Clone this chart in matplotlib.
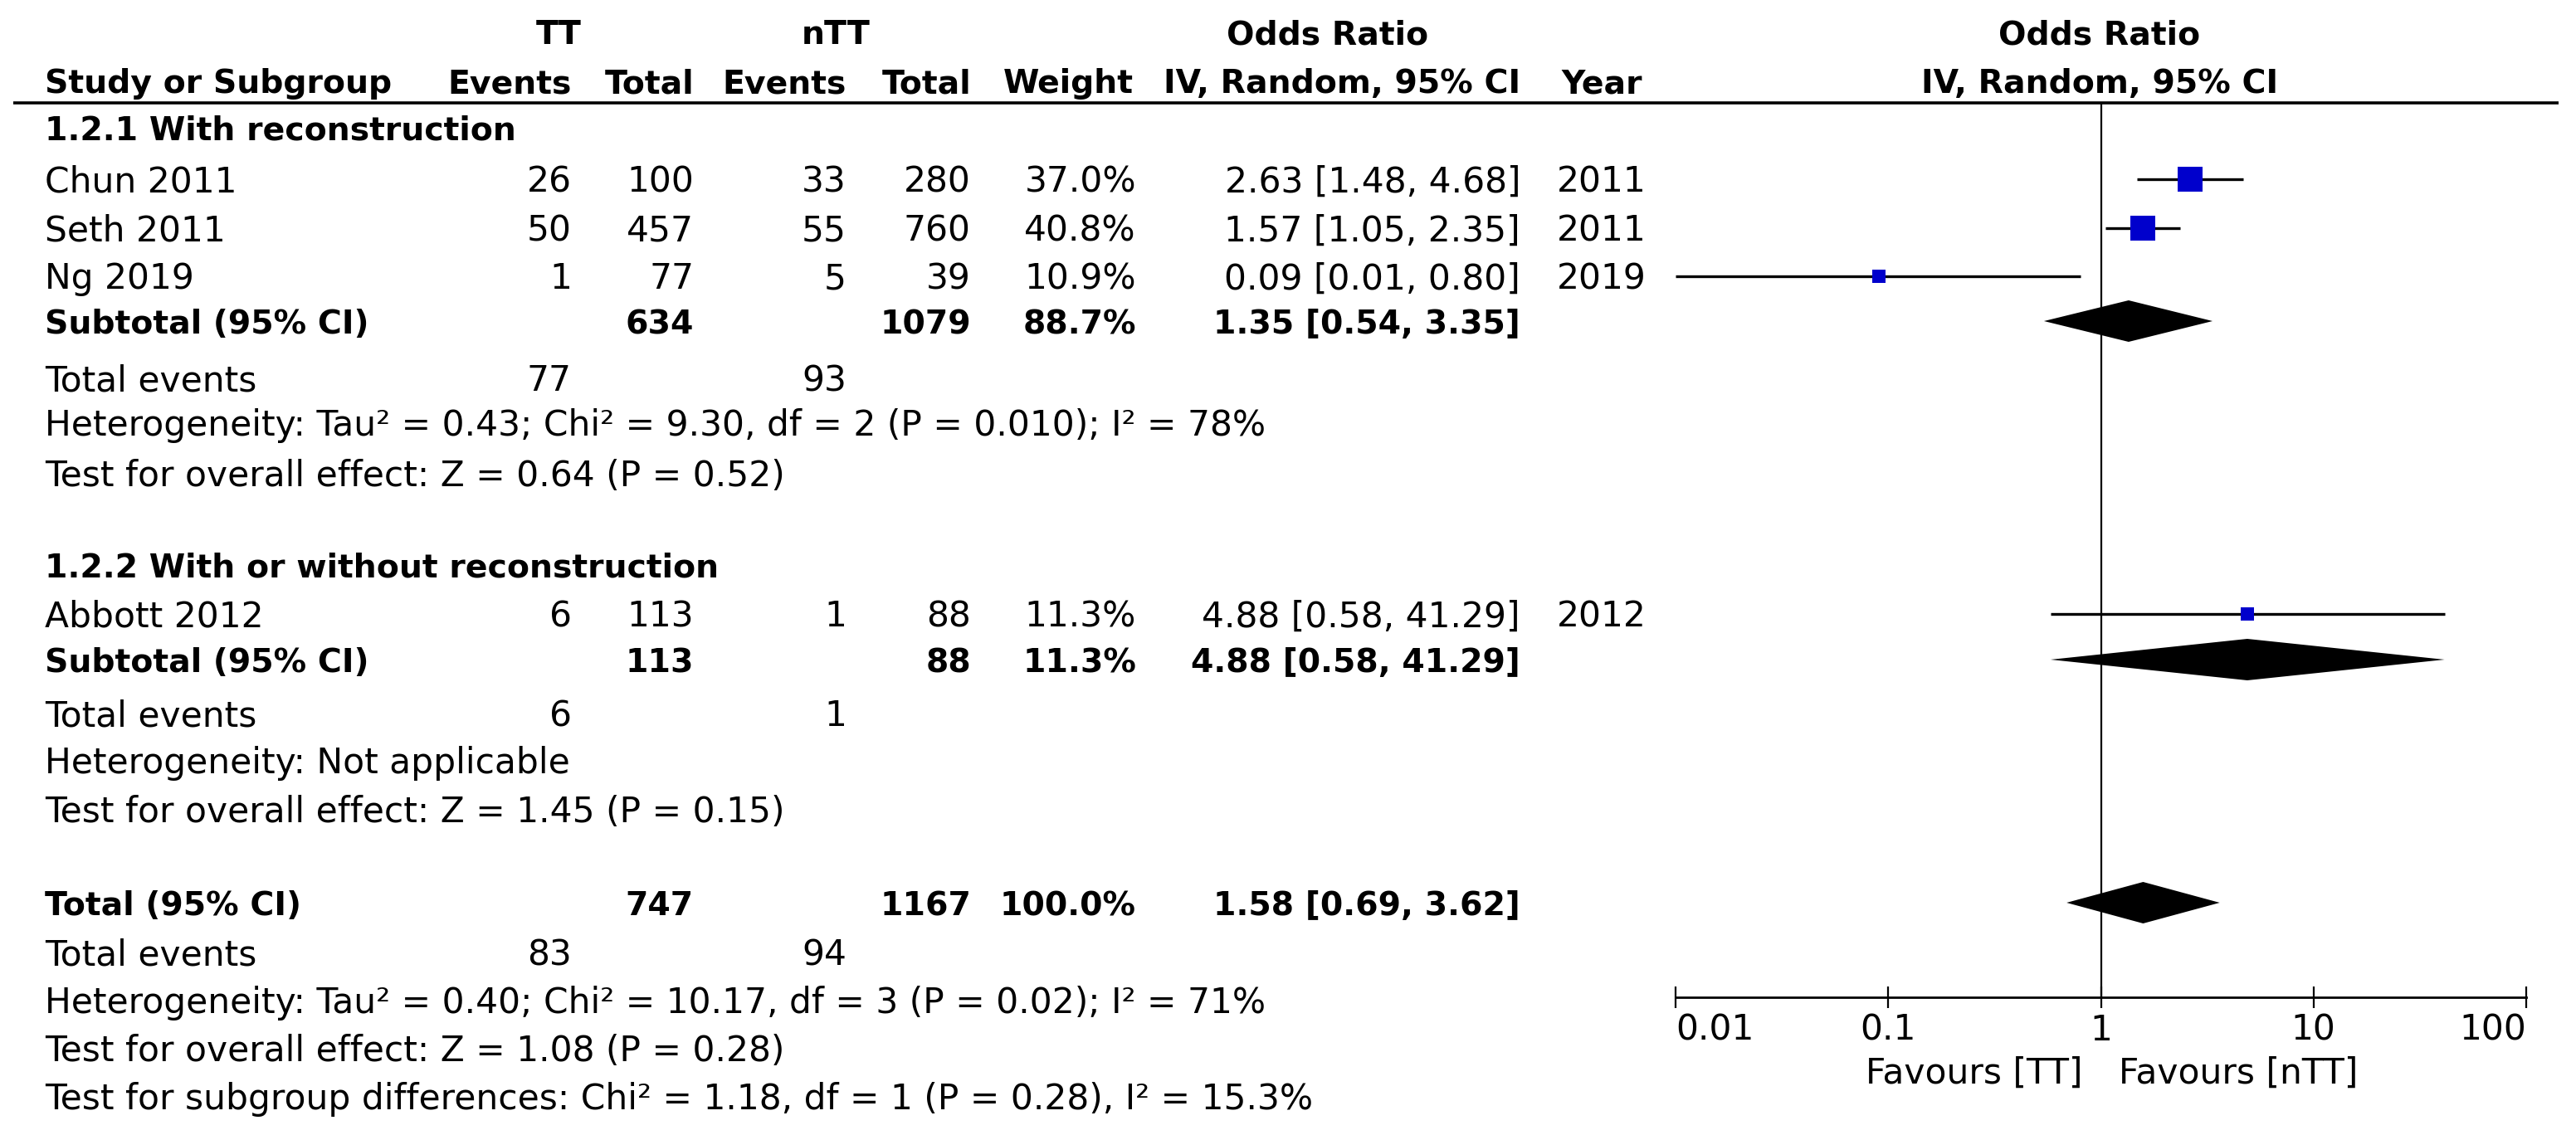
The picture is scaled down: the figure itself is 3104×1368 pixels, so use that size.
import matplotlib
matplotlib.use("Agg")
import matplotlib.pyplot as plt
from matplotlib.ticker import NullLocator, FixedLocator, FixedFormatter

# ---------------- data ----------------
studies = ["Chun 2011", "Seth 2011", "Ng 2019", "Abbott 2012"]
study_group = [0, 0, 0, 1]
tt_events = [26, 50, 1, 6]
tt_total = [100, 457, 77, 113]
ntt_events = [33, 55, 5, 1]
ntt_total = [280, 760, 39, 88]
weights = [37.0, 40.8, 10.9, 11.3]
or_est = [2.63, 1.57, 0.09, 4.88]
or_lo = [1.48, 1.05, 0.01, 0.58]
or_hi = [4.68, 2.35, 0.80, 41.29]
years = [2011, 2011, 2019, 2012]

subgroups = ["1.2.1 With reconstruction", "1.2.2 With or without reconstruction"]
sub_tt_total = [634, 113]
sub_ntt_total = [1079, 88]
sub_weight = [88.7, 11.3]
sub_est = [1.35, 4.88]
sub_lo = [0.54, 0.58]
sub_hi = [3.35, 41.29]
sub_tt_events = [77, 6]
sub_ntt_events = [93, 1]
sub_het = ["Heterogeneity: Tau\u00b2 = 0.43; Chi\u00b2 = 9.30, df = 2 (P = 0.010); I\u00b2 = 78%",
           "Heterogeneity: Not applicable"]
sub_effect = ["Test for overall effect: Z = 0.64 (P = 0.52)",
              "Test for overall effect: Z = 1.45 (P = 0.15)"]

total_tt_total = 747
total_ntt_total = 1167
total_weight = 100.0
total_est, total_lo, total_hi = 1.58, 0.69, 3.62
total_tt_events = 83
total_ntt_events = 94
total_het = "Heterogeneity: Tau\u00b2 = 0.40; Chi\u00b2 = 10.17, df = 3 (P = 0.02); I\u00b2 = 71%"
total_effect = "Test for overall effect: Z = 1.08 (P = 0.28)"
subgroup_diff = "Test for subgroup differences: Chi\u00b2 = 1.18, df = 1 (P = 0.28), I\u00b2 = 15.3%"

tick_values = [0.01, 0.1, 1, 10, 100]
tick_labels = ["0.01", "0.1", "1", "10", "100"]
favours_left = "Favours [TT]"
favours_right = "Favours [nTT]"

# ---------------- layout (pixels) ----------------
W, H = 3104, 1368
DPI = 100
plt.rcParams['font.family'] = ['DejaVu Sans']

fig = plt.figure(figsize=(W / DPI, H / DPI), dpi=DPI)
fig.patch.set_facecolor("white")

renderer = fig.canvas.get_renderer()


def fit_size(s, target, weight):
    p = fig.text(0, 0, s, fontsize=20, fontweight=weight)
    w = p.get_window_extent(renderer).width
    p.remove()
    return 20 * target / w


FS = fit_size("Test for overall effect: Z = 0.64 (P = 0.52)", 891.0, "normal")
FSB = fit_size("Study or Subgroup", 418.0, "bold")
fs_px = FS * DPI / 72.0
BASE = 0.36 * fs_px

tax = fig.add_axes([0, 0, 1, 1])
tax.set_xlim(0, W)
tax.set_ylim(H, 0)
tax.axis("off")

X_LABEL = 54
X_TTE = 689
X_TTT = 836
X_NTE = 1020
X_NTT = 1170
X_WT = 1369
X_OR = 1832
X_YEAR = 1930


def txt(x, y, s, ha="left", bold=False):
    tax.text(x, y + BASE, s, ha=ha, va="baseline", fontsize=FSB if bold else FS,
             fontweight="bold" if bold else "normal", color="black")


# headers
txt(673, 38, "TT", ha="center", bold=True)
txt(1007, 38, "nTT", ha="center", bold=True)
txt(1600, 38, "Odds Ratio", ha="center", bold=True)
txt(2530, 38, "Odds Ratio", ha="center", bold=True)
txt(X_LABEL, 97, "Study or Subgroup", bold=True)
txt(X_TTE, 97, "Events", ha="right", bold=True)
txt(X_TTT, 97, "Total", ha="right", bold=True)
txt(X_NTE, 97, "Events", ha="right", bold=True)
txt(X_NTT, 97, "Total", ha="right", bold=True)
txt(1366, 97, "Weight", ha="right", bold=True)
txt(X_OR, 97, "IV, Random, 95% CI", ha="right", bold=True)
txt(X_YEAR, 97, "Year", ha="center", bold=True)
txt(2530, 97, "IV, Random, 95% CI", ha="center", bold=True)
tax.plot([16, 3083], [124, 124], color="black", lw=2.6, solid_capstyle="butt")

# row positions
group_title_y = [153, 680]
study_y = [216, 275, 333, 740]
subtotal_y = [387, 795]
events_y = [456, 860]
het_y = [510, 917]
effect_y = [571, 976]
total_y = 1088
total_events_y = 1148
total_het_y = 1206
total_effect_y = 1264
subdiff_y = 1322

for g in range(len(subgroups)):
    txt(X_LABEL, group_title_y[g], subgroups[g], bold=True)
    txt(X_LABEL, subtotal_y[g], "Subtotal (95% CI)", bold=True)
    txt(X_TTT, subtotal_y[g], str(sub_tt_total[g]), ha="right", bold=True)
    txt(X_NTT, subtotal_y[g], str(sub_ntt_total[g]), ha="right", bold=True)
    txt(X_WT, subtotal_y[g], f"{sub_weight[g]:.1f}%", ha="right", bold=True)
    txt(X_OR, subtotal_y[g], f"{sub_est[g]:.2f} [{sub_lo[g]:.2f}, {sub_hi[g]:.2f}]", ha="right", bold=True)
    txt(X_LABEL, events_y[g], "Total events")
    txt(X_TTE, events_y[g], str(sub_tt_events[g]), ha="right")
    txt(X_NTE, events_y[g], str(sub_ntt_events[g]), ha="right")
    txt(X_LABEL, het_y[g], sub_het[g])
    txt(X_LABEL, effect_y[g], sub_effect[g])

for i in range(len(studies)):
    y = study_y[i]
    txt(X_LABEL, y, studies[i])
    txt(X_TTE, y, str(tt_events[i]), ha="right")
    txt(X_TTT, y, str(tt_total[i]), ha="right")
    txt(X_NTE, y, str(ntt_events[i]), ha="right")
    txt(X_NTT, y, str(ntt_total[i]), ha="right")
    txt(X_WT, y, f"{weights[i]:.1f}%", ha="right")
    txt(X_OR, y, f"{or_est[i]:.2f} [{or_lo[i]:.2f}, {or_hi[i]:.2f}]", ha="right")
    txt(X_YEAR, y, str(years[i]), ha="center")

txt(X_LABEL, total_y, "Total (95% CI)", bold=True)
txt(X_TTT, total_y, str(total_tt_total), ha="right", bold=True)
txt(X_NTT, total_y, str(total_ntt_total), ha="right", bold=True)
txt(X_WT, total_y, f"{total_weight:.1f}%", ha="right", bold=True)
txt(X_OR, total_y, f"{total_est:.2f} [{total_lo:.2f}, {total_hi:.2f}]", ha="right", bold=True)
txt(X_LABEL, total_events_y, "Total events")
txt(X_TTE, total_events_y, str(total_tt_events), ha="right")
txt(X_NTE, total_events_y, str(total_ntt_events), ha="right")
txt(X_LABEL, total_het_y, total_het)
txt(X_LABEL, total_effect_y, total_effect)
txt(X_LABEL, subdiff_y, subgroup_diff)

txt(2510, 1290, favours_left, ha="right")
txt(2553, 1290, favours_right, ha="left")

# ---------------- forest plot ----------------
AX_L, AX_R = 2019, 3044
AX_TOP, AX_BOT = 124, 1202
fax = fig.add_axes([AX_L / W, (H - AX_BOT) / H, (AX_R - AX_L) / W, (AX_BOT - AX_TOP) / H])
fax.set_xscale("log")
fax.set_xlim(tick_values[0], tick_values[-1])
fax.set_ylim(AX_BOT, AX_TOP)
fax.patch.set_alpha(0)
for s in ["top", "left", "right"]:
    fax.spines[s].set_visible(False)
fax.spines["bottom"].set_linewidth(2.0)
fax.yaxis.set_visible(False)
fax.xaxis.set_major_locator(FixedLocator(tick_values))
fax.xaxis.set_major_formatter(FixedFormatter(tick_labels))
fax.xaxis.set_minor_locator(NullLocator())
fax.tick_params(axis="x", which="major", direction="inout", length=19, width=1.6,
                labelsize=FS, pad=4)
fig.canvas.draw()
tls = fax.get_xticklabels()
tls[0].set_horizontalalignment("left")
tls[-1].set_horizontalalignment("right")

fax.axvline(1, color="black", lw=1.6, zorder=1)

SQ_BLUE = "#0000CC"
for i in range(len(studies)):
    y = study_y[i]
    fax.plot([or_lo[i], or_hi[i]], [y, y], color="black", lw=2.4, zorder=2,
             solid_capstyle="butt", clip_on=False)
    ms = 3.49 * weights[i] ** 0.5
    fax.plot([or_est[i]], [y], marker="s", markersize=ms, color=SQ_BLUE,
             markeredgewidth=0, zorder=3, clip_on=False)

DH = 25


def diamond(lo, est, hi, y):
    fax.fill([lo, est, hi, est], [y, y - DH, y, y + DH], color="black",
             lw=0, zorder=3, clip_on=False)


for g in range(len(subgroups)):
    diamond(sub_lo[g], sub_est[g], sub_hi[g], subtotal_y[g])
diamond(total_lo, total_est, total_hi, total_y)

fig.savefig("out.png", dpi=DPI, facecolor="white")
